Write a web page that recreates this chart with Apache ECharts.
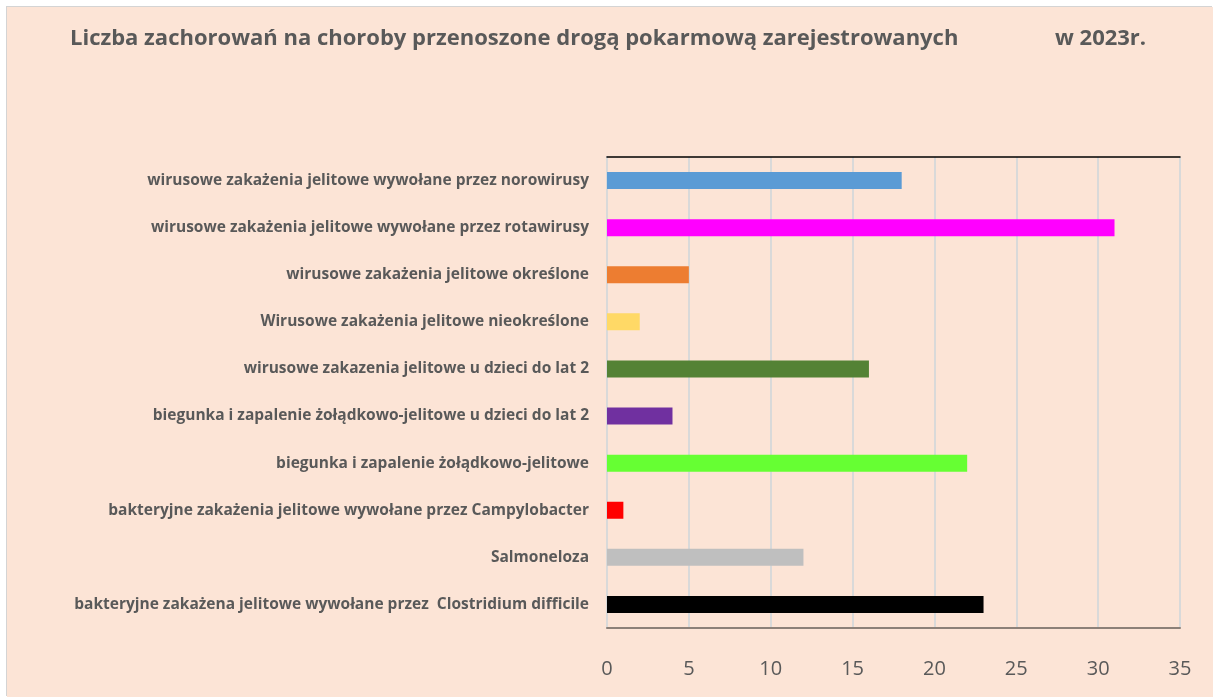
<!DOCTYPE html>
<html>
<head>
<meta charset="utf-8">
<script src="https://cdn.jsdelivr.net/npm/echarts@6/dist/echarts.min.js"></script>
<style>
  html, body { margin: 0; padding: 0; background: #ffffff; }
  #wrap { position: relative; width: 1213px; height: 697px; overflow: hidden; }
  #echart {
    position: absolute; left: 7px; top: 7px; width: 1206px; height: 690px;
    background: #FCE4D6; box-shadow: -1px -1px 0 #d4d4d4;
  }
</style>
</head>
<body>
<div id="wrap"><div id="echart"></div></div>
<script>
// kategorie (od góry)
var categories = [
    'wirusowe zakażenia jelitowe wywołane przez norowirusy',
    'wirusowe zakażenia jelitowe wywołane przez rotawirusy',
    'wirusowe zakażenia jelitowe określone',
    'Wirusowe zakażenia jelitowe nieokreślone',
    'wirusowe zakazenia jelitowe u dzieci do lat 2',
    'biegunka i zapalenie żołądkowo-jelitowe u dzieci do lat 2',
    'biegunka i zapalenie żołądkowo-jelitowe',
    'bakteryjne zakażenia jelitowe wywołane przez Campylobacter',
    'Salmoneloza',
    'bakteryjne zakażena jelitowe wywołane przez  Clostridium difficile'
];
// liczba zachorowań
var values = [18, 31, 5, 2, 16, 4, 22, 1, 12, 23];
// kolory słupków
var barColors = ['#5B9BD5', '#FF00FF', '#ED7D31', '#FFD966', '#548235',
                 '#7030A0', '#66FF33', '#FF0000', '#BFBFBF', '#000000'];
// oś X
var xTicks = [0, 5, 10, 15, 20, 25, 30, 35];

var myChart = echarts.init(document.getElementById('echart'));

var titleStyle = { fontFamily: 'Open Sans', fontWeight: 'bold', fontSize: 22, color: '#595959' };

var option = {
    backgroundColor: '#FCE4D6',
    title: [
        {
            text: 'Liczba zachorowań na choroby przenoszone drogą pokarmową zarejestrowanych',
            left: 63, top: 21, padding: 0,
            textStyle: titleStyle
        },
        {
            text: 'w 2023r.',
            left: 1048, top: 21, padding: 0,
            textStyle: titleStyle
        }
    ],
    grid: { left: 600, right: 33, top: 150, bottom: 69 },
    xAxis: [
        {
            type: 'value',
            min: xTicks[0],
            max: xTicks[xTicks.length - 1],
            interval: 5,
            position: 'bottom',
            axisLine: { show: true, lineStyle: { color: '#8c8078', width: 2 } },
            axisTick: { show: false },
            axisLabel: { fontFamily: 'Open Sans', fontSize: 20, color: '#595959', margin: 31 },
            splitLine: { show: true, lineStyle: { color: '#d9d9d9', width: 2 } }
        },
        {
            type: 'value',
            min: xTicks[0],
            max: xTicks[xTicks.length - 1],
            position: 'top',
            axisLine: { show: true, lineStyle: { color: '#000000', width: 1.5 } },
            axisTick: { show: false },
            axisLabel: { show: false },
            splitLine: { show: false }
        }
    ],
    yAxis: {
        type: 'category',
        data: categories,
        inverse: true,
        axisLine: { show: true, lineStyle: { color: '#d9d9d9', width: 2 } },
        axisTick: { show: false },
        axisLabel: { fontFamily: 'Open Sans', fontWeight: 'bold', fontSize: 15.5, color: '#595959', margin: 18 }
    },
    series: [{
        type: 'bar',
        xAxisIndex: 0,
        data: values.map(function (v, i) {
            return { value: v, itemStyle: { color: barColors[i] } };
        }),
        barWidth: 17
    }]
};
myChart.setOption(option);
</script>
</body>
</html>
